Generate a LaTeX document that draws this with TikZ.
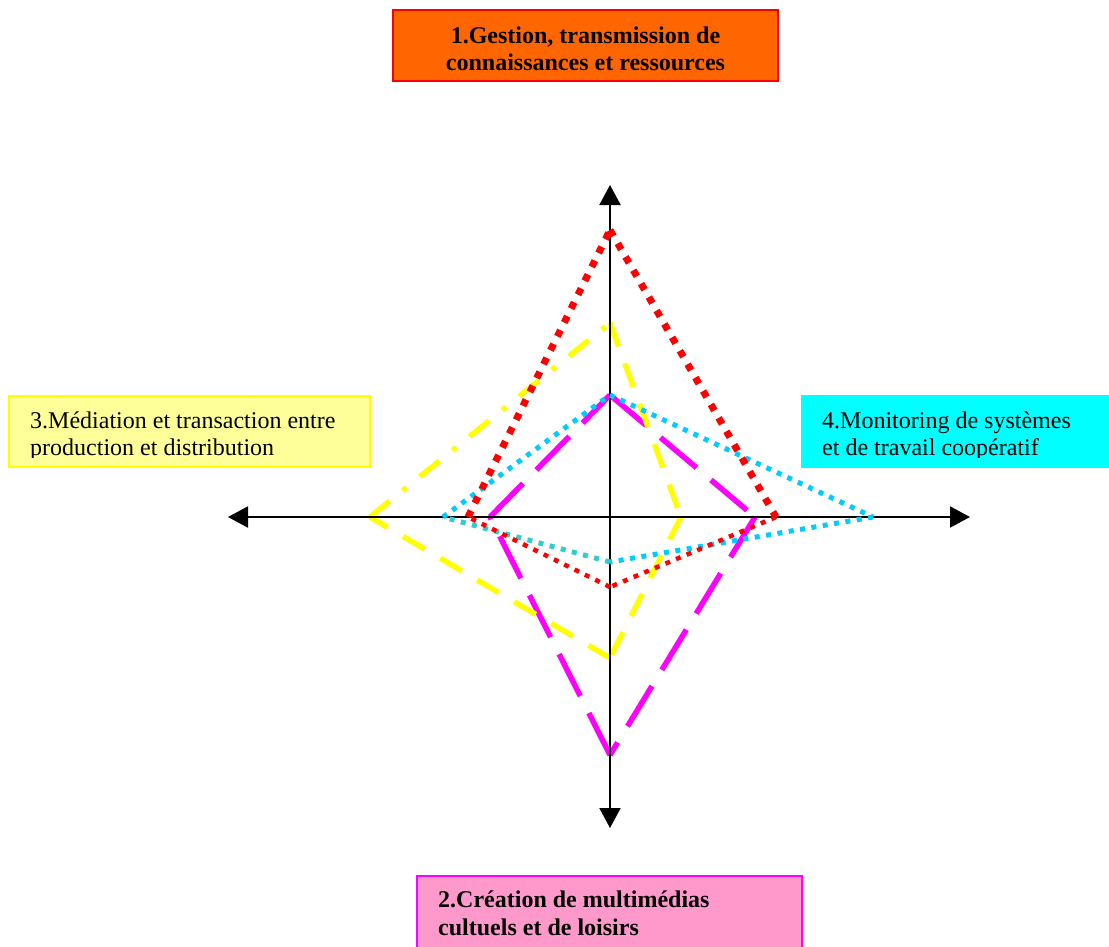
\documentclass[tikz,border=0pt]{standalone}
\usepackage{fontspec}
\setmainfont{Liberation Serif}
\usetikzlibrary{arrows.meta}
\definecolor{boxorange}{HTML}{FF6600}
\definecolor{boxyellow}{HTML}{FFFF99}
\definecolor{lineyellow}{HTML}{FFFF00}
\definecolor{boxcyan}{HTML}{00FFFF}
\definecolor{boxpink}{HTML}{FF99CC}
\definecolor{linemag}{HTML}{FF00FF}
\definecolor{linecyan}{HTML}{00CCFF}
\definecolor{lineteal}{HTML}{33CCCC}
\begin{document}
\begin{tikzpicture}[x=1pt,y=-1pt,
  lbl/.style={inner sep=0pt,font=\fontsize{24}{28}\selectfont},
  blbl/.style={inner sep=0pt,font=\fontsize{24}{28}\selectfont\bfseries},
  axis/.style={line width=2pt,{Triangle[length=20pt,width=21pt]}-{Triangle[length=20pt,width=21pt]}},
  redthick/.style={draw=red,line width=7pt,dash pattern=on 7pt off 8.5pt},
  redthin/.style={draw=red,line width=4.5pt,dash pattern=on 5pt off 6.5pt},
  cyandot/.style={draw=linecyan,line width=5pt,dash pattern=on 5pt off 6.5pt},
  tealdot/.style={draw=lineteal,line width=5pt,dash pattern=on 5pt off 6.5pt},
  magdash/.style={draw=linemag,line width=5.5pt,dash pattern=on 47pt off 19pt},
  yeldash/.style={draw=lineyellow,line width=5.5pt,dash pattern=on 25pt off 18pt},
  yeldashdot/.style={draw=lineyellow,line width=5.5pt,dash pattern=on 25pt off 17pt on 5pt off 17pt}]
\useasboundingbox (0,0) rectangle (1109,947);
% boxes
\draw[fill=boxorange,draw=red,line width=2pt] (393,10) rectangle (778,81);
\node[blbl,anchor=base] (t1a) at (585.5,44) {1.Gestion, transmission de};
\node[blbl,anchor=base] (t1b) at (585.5,71) {connaissances et ressources};
\draw[fill=boxyellow,draw=lineyellow,line width=2pt] (9,396) rectangle (370,467);
\fill[boxcyan] (801,395) rectangle (1109,468);
\begin{scope}
\clip (0,396) rectangle (1109,457);
\node[lbl,anchor=base west] (t3a) at (30,428) {3.Médiation et transaction entre};
\node[lbl,anchor=base west] (t3b) at (30,455) {production et distribution};
\node[lbl,anchor=base west] (t4a) at (822,428) {4.Monitoring de systèmes};
\node[lbl,anchor=base west] (t4b) at (822,455) {et de travail coopératif};
\end{scope}
\draw[fill=boxpink,draw=linemag,line width=2pt] (417,876) rectangle (802,960);
\node[blbl,anchor=base west] (t2a) at (438,907) {2.Création de multimédias};
\node[blbl,anchor=base west] (t2b) at (438,935) {cultuels et de loisirs};
% axes
\coordinate (O) at (610,517);
\coordinate (axL) at (228,517);
\coordinate (axR) at (970,517);
\coordinate (axT) at (610,185);
\coordinate (axB) at (610,828);
% polygon vertices
\coordinate (Rt) at (610,230); \coordinate (Rr) at (776,517);
\coordinate (Rb) at (610,587); \coordinate (Rl) at (468,517);
\coordinate (Ct) at (610,395); \coordinate (Cr) at (873,517);
\coordinate (Cb) at (610,562); \coordinate (Cl) at (443,517);
\coordinate (Mt) at (610,395); \coordinate (Mr) at (755,517);
\coordinate (Mb) at (610,755); \coordinate (Ml) at (490,517);
\coordinate (Yt) at (610,323); \coordinate (Yr) at (681,517);
\coordinate (Yb) at (610,658); \coordinate (Yl) at (370,517);
% magenta
\draw[magdash] (Mt) -- (Mr);
\draw[magdash] (Mr) -- (Mb);
\draw[magdash] (Mb) -- (Ml);
\draw[magdash] (Ml) -- (Mt);
% yellow
\draw[yeldashdot] (Yl) -- (Yt);
\draw[yeldash] (Yt) -- (Yr);
\draw[yeldash] (Yr) -- (Yb);
\draw[yeldash] (Yb) -- (Yl);
% axes drawn
\draw[axis] (axL) -- (axR);
\draw[axis] (axT) -- (axB);
% cyan
\draw[cyandot] (Cl) -- (Ct);
\draw[cyandot] (Ct) -- (Cr);
\draw[cyandot] (Cr) -- (Cb);
\draw[tealdot] (Cb) -- (Cl);
% red
\draw[redthick] (Rl) -- (Rt);
\draw[redthick] (Rt) -- (Rr);
\draw[redthin] (Rr) -- (Rb);
\draw[redthin] (Rb) -- (Rl);
\end{tikzpicture}
\end{document}
